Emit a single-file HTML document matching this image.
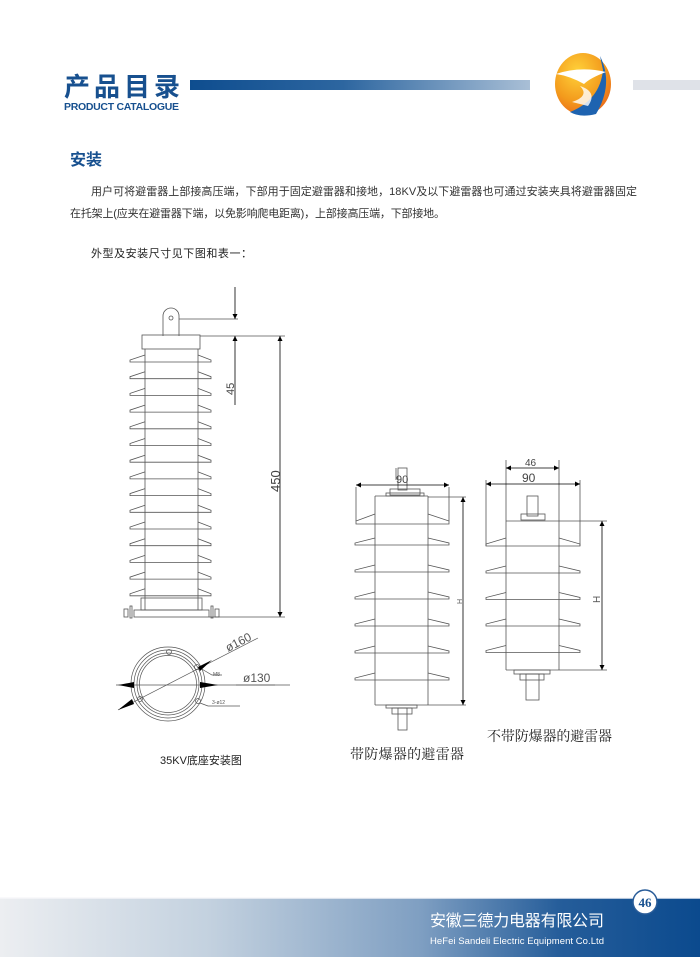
<!DOCTYPE html>
<html><head><meta charset="utf-8"><style>
html,body{margin:0;padding:0;background:#fff;}
svg{display:block;}
text{font-family:"Liberation Sans","Noto Sans CJK SC",sans-serif;}
</style></head><body>
<svg width="700" height="957" viewBox="0 0 700 957" xmlns="http://www.w3.org/2000/svg">
<defs>
<linearGradient id="hb" x1="0" x2="1"><stop offset="0" stop-color="#0e4d8f"/><stop offset="0.45" stop-color="#2d66a0"/><stop offset="1" stop-color="#a9bfd6"/></linearGradient>
<linearGradient id="fb" x1="0" x2="1"><stop offset="0" stop-color="#eceef1"/><stop offset="0.3" stop-color="#c3d1df"/><stop offset="0.6" stop-color="#7f9fc2"/><stop offset="0.8" stop-color="#255d9a"/><stop offset="1" stop-color="#0b4a8e"/></linearGradient>
<radialGradient id="lg" cx="0.4" cy="0.3" r="0.8"><stop offset="0" stop-color="#ffd23a"/><stop offset="0.6" stop-color="#f39a1c"/><stop offset="1" stop-color="#e8601a"/></radialGradient>
<marker id="ar" viewBox="0 0 10 10" refX="10" refY="5" markerWidth="5" markerHeight="7" orient="auto-start-reverse" markerUnits="userSpaceOnUse"><path d="M0,0L10,5L0,10z" fill="#000"/></marker>
<marker id="ar2" viewBox="0 0 10 10" refX="10" refY="5" markerWidth="14" markerHeight="5" orient="auto-start-reverse" markerUnits="userSpaceOnUse"><path d="M0,0L10,5L0,10z" fill="#000"/></marker>
</defs>
<!-- header -->
<text x="64" y="96" font-size="26" font-weight="bold" fill="#17508f" textLength="116">产品目录</text>
<text x="64" y="110" font-size="10.5" font-weight="bold" fill="#17508f" textLength="115">PRODUCT CATALOGUE</text>
<rect x="190" y="80" width="340" height="10" fill="url(#hb)"/>
<rect x="633" y="80" width="67" height="10" fill="#dfe2e8"/>
<ellipse cx="583" cy="84" rx="28" ry="31" fill="url(#lg)"/>
<path d="M600,56 Q614,84 596,114 Q580,118 570,112 Q600,100 603,70z" fill="#1e63b0"/>
<path d="M556,74 Q580,66 606,72 Q590,78 584,84 Q570,76 556,74z" fill="#fff"/>
<path d="M572,102 Q590,96 580,86 Q598,92 588,106z" fill="#fff" opacity="0.8"/>
<!-- section -->
<text x="70" y="165" font-size="16" font-weight="bold" fill="#17508f">安装</text>
<text x="91" y="195" font-size="11" fill="#333" textLength="546">用户可将避雷器上部接高压端，下部用于固定避雷器和接地，18KV及以下避雷器也可通过安装夹具将避雷器固定</text>
<text x="70" y="217" font-size="11" fill="#333" textLength="375">在托架上(应夹在避雷器下端，以免影响爬电距离)，上部接高压端，下部接地。</text>
<text x="91" y="257" font-size="11" fill="#222" textLength="161">外型及安装尺寸见下图和表一：</text>

<g fill="none" stroke="#555" stroke-width="0.8">
<!-- drawing 1 -->
<path d="M163,336V316a8,8 0 0 1 16,0V336"/>
<circle cx="171" cy="318" r="2"/>
<rect x="142" y="335" width="58" height="14"/>
<line x1="145" y1="349" x2="145" y2="610"/><line x1="198" y1="349" x2="198" y2="610"/>
<g id="sh">
<path d="M145,355L130,360V362H211V360L198,355"/>
</g>
<use href="#sh" y="16.7"/><use href="#sh" y="33.4"/><use href="#sh" y="50.1"/><use href="#sh" y="66.8"/><use href="#sh" y="83.5"/><use href="#sh" y="100.2"/><use href="#sh" y="116.9"/><use href="#sh" y="133.6"/><use href="#sh" y="150.3"/><use href="#sh" y="167"/><use href="#sh" y="183.7"/><use href="#sh" y="200.4"/><use href="#sh" y="217.1"/><use href="#sh" y="233.8"/>
<rect x="141" y="598" width="61" height="12"/>
<rect x="134" y="610" width="75" height="7"/>
<rect x="124" y="609" width="4" height="8"/><rect x="130" y="606" width="2" height="12"/>
<rect x="215" y="609" width="4" height="8"/><rect x="211" y="606" width="2" height="12"/>
<line x1="179" y1="319" x2="238" y2="319"/>
<line x1="200" y1="336" x2="285" y2="336"/>
<line x1="209" y1="617" x2="285" y2="617"/>
</g>
<g stroke="#000" stroke-width="0.8" fill="none">
<line x1="235" y1="287" x2="235" y2="319" marker-end="url(#ar)"/>
<line x1="235" y1="405" x2="235" y2="336" marker-end="url(#ar)"/>
<line x1="280" y1="336" x2="280" y2="617" marker-start="url(#ar)" marker-end="url(#ar)"/>
</g>
<text transform="translate(234,395) rotate(-90)" font-size="11" fill="#444">45</text>
<text transform="translate(280,492) rotate(-90)" font-size="13" fill="#444">450</text>

<!-- base circle -->
<g fill="none" stroke="#555" stroke-width="0.7">
<circle cx="168" cy="684" r="37"/><circle cx="168" cy="684" r="34"/><circle cx="168" cy="684" r="31"/><circle cx="168" cy="684" r="28.5"/>
<circle cx="169" cy="652" r="2.5"/><circle cx="197" cy="667" r="2.5"/><circle cx="140" cy="699" r="2.5"/><circle cx="198" cy="701" r="2.5"/>
<line x1="118" y1="710" x2="258" y2="638"/>
<line x1="116" y1="685" x2="290" y2="685"/>
<path d="M200,668L212,675H222"/><path d="M200,703L208,706H240"/>
<line x1="236" y1="685" x2="275" y2="685"/>
</g>
<path d="M118,710L132,699L134,704z" fill="#000"/>
<path d="M212,660L198,667L200,671z" fill="#000"/>
<path d="M118,685L134,682V688z" fill="#000"/>
<path d="M218,685L200,682V688z" fill="#000"/>
<text transform="translate(228,652) rotate(-27)" font-size="12" fill="#555">ø160</text>
<text x="243" y="682" font-size="12" fill="#555">ø130</text>
<text x="213" y="676" font-size="5" fill="#555">M8</text>
<text x="212" y="704" font-size="5" fill="#555">3-ø12</text>
<text x="160" y="764" font-size="11" fill="#222">35KV底座安装图</text>

<!-- drawing 2 -->
<g fill="none" stroke="#555" stroke-width="0.8">
<rect x="398" y="468" width="9" height="22"/>
<rect x="390" y="489" width="30" height="6"/>
<rect x="386" y="493" width="38" height="3"/>
<line x1="375" y1="496" x2="428" y2="496"/>
<line x1="375" y1="496" x2="375" y2="705"/><line x1="428" y1="496" x2="428" y2="705"/>
<path d="M375,514L356,521V524H449V521L428,514"/>
<line x1="356" y1="487" x2="356" y2="521"/><line x1="449" y1="487" x2="449" y2="521"/>
<g id="s2"><path d="M375,538L355,543V545H449V543L428,538"/></g>
<use href="#s2" y="27"/><use href="#s2" y="54"/><use href="#s2" y="81"/><use href="#s2" y="108"/><use href="#s2" y="135"/>
<line x1="375" y1="705" x2="428" y2="705"/>
<rect x="386" y="705" width="31" height="3"/>
<rect x="392" y="708" width="20" height="6"/>
<rect x="398" y="708" width="9" height="22"/>
<line x1="428" y1="497" x2="466" y2="497"/><line x1="428" y1="705" x2="466" y2="705"/>
<line x1="396" y1="468" x2="396" y2="480"/>
</g>
<g stroke="#000" stroke-width="0.8" fill="none">
<line x1="356" y1="485" x2="449" y2="485" marker-start="url(#ar)" marker-end="url(#ar)"/>
<line x1="463" y1="497" x2="463" y2="705" marker-start="url(#ar)" marker-end="url(#ar)"/>
</g>
<text x="396" y="483" font-size="11" fill="#444">90</text>
<text transform="translate(462,604) rotate(-90)" font-size="7" fill="#555">H</text>
<text x="350" y="759" font-size="14" fill="#222" font-family="Liberation Serif,Noto Serif CJK SC,serif" style="font-family:'Liberation Serif','Noto Serif CJK SC',serif" textLength="114">带防爆器的避雷器</text>

<!-- drawing 3 -->
<g fill="none" stroke="#555" stroke-width="0.8">
<line x1="506" y1="460" x2="506" y2="670"/><line x1="559" y1="460" x2="559" y2="670"/>
<line x1="486" y1="480" x2="486" y2="546"/><line x1="580" y1="480" x2="580" y2="546"/>
<rect x="527" y="496" width="11" height="20"/>
<rect x="521" y="514" width="24" height="6"/>
<line x1="506" y1="521" x2="607" y2="521"/>
<path d="M506,538L486,544V546H580V544L559,538"/>
<g id="s3"><path d="M506,566L486,571V573H580V571L559,566"/></g>
<use href="#s3" y="26.5"/><use href="#s3" y="53"/><use href="#s3" y="79.5"/>
<line x1="506" y1="670" x2="607" y2="670"/>
<rect x="514" y="670" width="36" height="4"/>
<rect x="520" y="674" width="24" height="6"/>
<rect x="526" y="674" width="13" height="26"/>
</g>
<g stroke="#000" stroke-width="0.8" fill="none">
<line x1="506" y1="468" x2="559" y2="468" marker-start="url(#ar)" marker-end="url(#ar)"/>
<line x1="486" y1="484" x2="580" y2="484" marker-start="url(#ar)" marker-end="url(#ar)"/>
<line x1="602" y1="521" x2="602" y2="670" marker-start="url(#ar)" marker-end="url(#ar)"/>
</g>
<text x="525" y="466" font-size="10" fill="#444">46</text>
<text x="522" y="482" font-size="12" fill="#444">90</text>
<text transform="translate(600,603) rotate(-90)" font-size="10" fill="#555">H</text>
<text x="487" y="741" font-size="14" fill="#222" style="font-family:'Liberation Serif','Noto Serif CJK SC',serif" textLength="125">不带防爆器的避雷器</text>

<!-- footer -->
<rect x="0" y="898" width="700" height="59" fill="url(#fb)"/>
<rect x="0" y="897" width="700" height="2" fill="#f6f7f9" opacity="0.7"/>
<circle cx="645" cy="902" r="12" fill="#fff" stroke="#2a5d99" stroke-width="1.5"/>
<text x="645" y="907" font-size="13" font-weight="bold" text-anchor="middle" fill="#17508f" style="font-family:'Liberation Serif',serif">46</text>
<text x="430" y="926" font-size="16" fill="#fff" textLength="174">安徽三德力电器有限公司</text>
<text x="430" y="944" font-size="9.5" fill="#fff" textLength="174">HeFei Sandeli Electric Equipment Co.Ltd</text>
</svg>
</body></html>
